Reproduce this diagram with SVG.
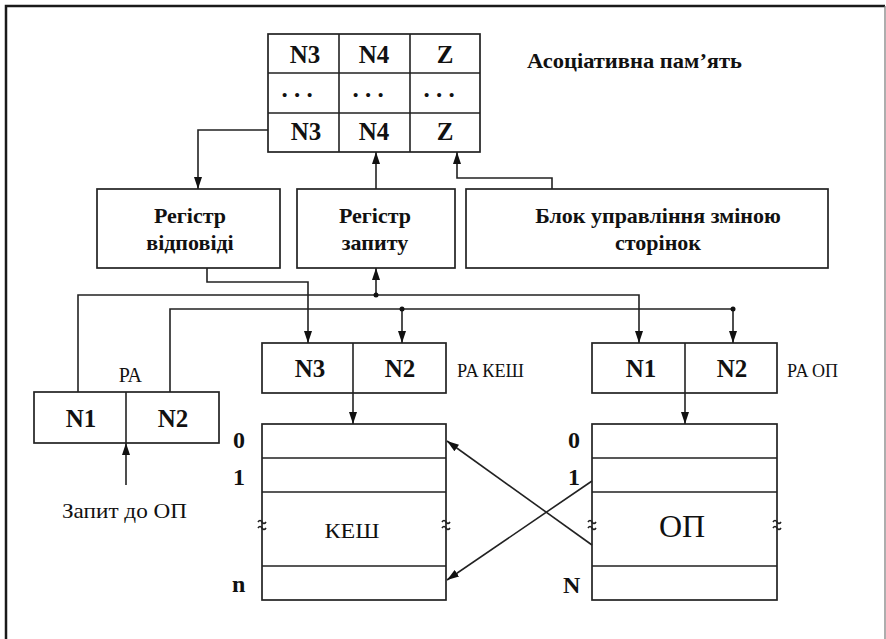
<svg xmlns="http://www.w3.org/2000/svg" width="886" height="639" viewBox="0 0 886 639">
<style>
.box{fill:#fff;stroke:#222;stroke-width:1.7}
.ln{fill:none;stroke:#222;stroke-width:1.6}
.w{fill:none;stroke:#222;stroke-width:1.6}
.b{font-weight:bold}
.n{font-size:25px;text-anchor:middle}
.reg{font-size:22px;text-anchor:middle}
.idx{font-size:24px}
</style>
<defs>
<marker id="ah" viewBox="0 0 12 8" refX="12" refY="4" markerWidth="12" markerHeight="8" markerUnits="userSpaceOnUse" orient="auto">
<path d="M0,0 L12,4 L0,8 z" fill="#111"/>
</marker>
</defs>
<rect width="886" height="639" fill="#fff"/>
<g id="frame">
<path d="M6,639 V6 H885" fill="none" stroke="#1a1a1a" stroke-width="2.5"/>
<path d="M885,6 V639" fill="none" stroke="#777" stroke-width="1.2"/>
</g>
<g font-family="'Liberation Serif', 'DejaVu Serif', serif" fill="#111">
<g id="assoc-memory">
<rect class="box" x="268" y="34" width="212" height="118"/>
<path class="ln" d="M268,73 H480 M268,113 H480 M339,34 V152 M410,34 V152"/>
<text class="b n" x="305" y="63">N3</text>
<text class="b n" x="374" y="63">N4</text>
<text class="b n" x="445" y="63">Z</text>
<text class="b n" x="297" y="97">. . .</text>
<text class="b n" x="368" y="97">. . .</text>
<text class="b n" x="439" y="97">. . .</text>
<text class="b n" x="306" y="140">N3</text>
<text class="b n" x="374" y="140">N4</text>
<text class="b n" x="445" y="140">Z</text>
<text class="b" x="527" y="68" font-size="21" textLength="215" lengthAdjust="spacingAndGlyphs">Асоціативна пам’ять</text>
</g>
<g id="reg-response">
<rect class="box" x="97" y="189" width="183" height="79"/>
<text class="b reg" x="190" y="223">Регістр</text>
<text class="b reg" x="190" y="250">відповіді</text>
</g>
<g id="reg-request">
<rect class="box" x="297" y="189" width="158" height="79"/>
<text class="b reg" x="375" y="223">Регістр</text>
<text class="b reg" x="375" y="250">запиту</text>
</g>
<g id="page-control">
<rect class="box" x="466" y="189" width="362" height="79"/>
<text class="b reg" x="658" y="223">Блок управління зміною</text>
<text class="b reg" x="658" y="250">сторінок</text>
</g>
<g id="pa">
<rect class="box" x="34" y="392" width="185" height="51"/>
<path class="ln" d="M126,392 V443"/>
<text class="b n" x="81" y="427">N1</text>
<text class="b n" x="173" y="427">N2</text>
<text x="130" y="382" font-size="20" text-anchor="middle" letter-spacing="-0.5">PA</text>
<text x="62" y="518" font-size="21" textLength="125" lengthAdjust="spacingAndGlyphs">Запит до ОП</text>
</g>
<g id="pa-cache">
<rect class="box" x="262" y="343" width="184" height="50"/>
<path class="ln" d="M353,343 V393"/>
<text class="b n" x="310" y="377">N3</text>
<text class="b n" x="400" y="377">N2</text>
<text x="457" y="377" font-size="18" textLength="67" lengthAdjust="spacingAndGlyphs">PA КЕШ</text>
</g>
<g id="pa-mem">
<rect class="box" x="592" y="343" width="185" height="50"/>
<path class="ln" d="M685,343 V393"/>
<text class="b n" x="641" y="377">N1</text>
<text class="b n" x="732" y="377">N2</text>
<text x="787" y="377" font-size="18" textLength="51" lengthAdjust="spacingAndGlyphs">PA ОП</text>
</g>
<g id="cache">
<rect class="box" x="262" y="424" width="184" height="176"/>
<path class="ln" d="M262,458 H446 M262,492 H446 M262,566 H446"/>
<text x="352" y="538" font-size="22" text-anchor="middle" textLength="55" lengthAdjust="spacingAndGlyphs">КЕШ</text>
<text class="b idx" x="233" y="448">0</text>
<text class="b idx" x="233" y="485">1</text>
<text class="b idx" x="232" y="592">n</text>
<path class="w" d="M258,522 q2,-3 4,0 t4,0 M258,528 q2,-3 4,0 t4,0 M442,522 q2,-3 4,0 t4,0 M442,528 q2,-3 4,0 t4,0"/>
</g>
<g id="main-memory">
<rect class="box" x="592" y="424" width="185" height="176"/>
<path class="ln" d="M592,458 H777 M592,492 H777 M592,566 H777"/>
<text x="682" y="537" font-size="32" text-anchor="middle">ОП</text>
<text class="b idx" x="568" y="448">0</text>
<text class="b idx" x="568" y="485">1</text>
<text class="b idx" x="563" y="593">N</text>
<path class="w" d="M588,522 q2,-3 4,0 t4,0 M588,528 q2,-3 4,0 t4,0 M773,522 q2,-3 4,0 t4,0 M773,528 q2,-3 4,0 t4,0"/>
</g>
</g>
<g id="connectors">
<path class="ln" d="M268,130 H198 V189" marker-end="url(#ah)"/>
<path class="ln" d="M376,189 V152" marker-end="url(#ah)"/>
<path class="ln" d="M552,189 V178 H457 V152" marker-end="url(#ah)"/>
<path class="ln" d="M207,268 V282 H308 V343" marker-end="url(#ah)"/>
<path class="ln" d="M78,392 V295 H639 V343" marker-end="url(#ah)"/>
<path class="ln" d="M376,295 V268" marker-end="url(#ah)"/>
<path class="ln" d="M170,392 V309 H733 V343" marker-end="url(#ah)"/>
<path class="ln" d="M402,309 V343" marker-end="url(#ah)"/>
<path class="ln" d="M353,393 V424" marker-end="url(#ah)"/>
<path class="ln" d="M685,393 V424" marker-end="url(#ah)"/>
<path class="ln" d="M126,485 V443" marker-end="url(#ah)"/>
<path class="ln" d="M592,545 L447,441" marker-end="url(#ah)"/>
<path class="ln" d="M592,481 L447,580" marker-end="url(#ah)"/>
<circle cx="376" cy="295" r="2.5" fill="#111"/>
<circle cx="402" cy="309" r="2.5" fill="#111"/>
<circle cx="733" cy="309" r="2.5" fill="#111"/>
</g>
</svg>
